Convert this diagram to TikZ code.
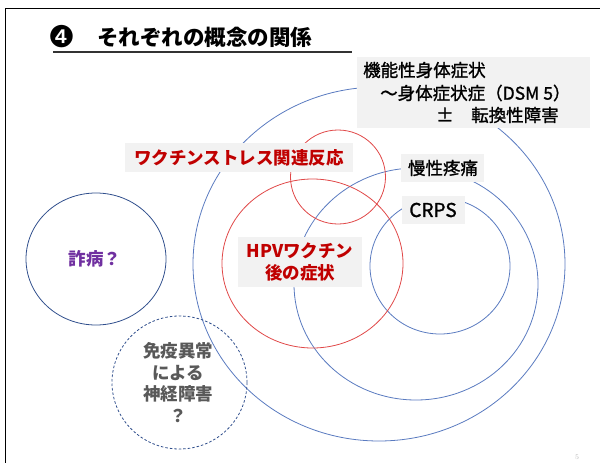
\documentclass[tikz,border=0pt]{standalone}
\usepackage{fontspec}
\newfontfamily\jp{Noto Sans CJK JP}
\newfontfamily\jpm[FakeBold=1.3]{Noto Sans CJK JP}
\newfontfamily\dv{DejaVu Sans}
\definecolor{cblue}{HTML}{5A7BC0}
\definecolor{cdblue}{HTML}{2F4E8C}
\definecolor{cred}{HTML}{E04848}
\definecolor{tred}{HTML}{C00000}
\definecolor{tpurple}{HTML}{7030A0}
\definecolor{tgray}{HTML}{595959}
\definecolor{boxgray}{HTML}{F2F2F2}
\tikzset{
  blueline/.style={draw=cblue, line width=0.8pt},
  redline/.style={draw=cred, line width=0.8pt},
  graybox/.style={fill=boxgray, draw=none, inner sep=0pt},
  lbl/.style={inner sep=0pt, font=\jpm\fontsize{17.5}{21.7}\selectfont},
  redlbl/.style={lbl, text=tred, font=\jp\bfseries\fontsize{17.5}{22}\selectfont},
}
\begin{document}
\begin{tikzpicture}[x=1pt, y=-1pt]
\useasboundingbox (0,0) rectangle (600,463);
% frame
\coordinate (fTR) at (600,8.5);
\coordinate (fTL) at (5.5,8.5);
\coordinate (fBL) at (5.5,463);
\draw[line width=1.2pt] (fTR) -- (fTL) -- (fBL);
% title
\node[inner sep=0pt, font=\dv\fontsize{30}{32}\selectfont] (num) at (62,37) {❹};
\node[anchor=west, inner sep=0pt, font=\jp\bfseries\fontsize{21.5}{26}\selectfont] (title) at (97,37) {それぞれの概念の関係};
\coordinate (ulA) at (53,52);
\coordinate (ulB) at (352,52);
\draw[line width=1.3pt, black!80] (ulA) -- (ulB);
% ellipses
\draw[blueline] (379,264) ellipse [x radius=186pt, y radius=177pt];
\draw[blueline] (416,284) ellipse [x radius=122pt, y radius=116pt];
\draw[blueline] (440,266) ellipse [x radius=70pt, y radius=68pt];
\draw[redline] (338,177) ellipse [x radius=47.5pt, y radius=47pt];
\draw[redline] (312.5,263.5) ellipse [x radius=90.5pt, y radius=84.5pt];
\draw[draw=cdblue, line width=0.8pt] (96,259) ellipse [x radius=70pt, y radius=66pt];
\draw[draw=cdblue, line width=0.8pt, dash pattern=on 2.5pt off 2pt] (179.5,382.5) ellipse [x radius=67.5pt, y radius=66.5pt];
% top-right label
\node[graybox, minimum width=233pt, minimum height=71pt] (fbox) at (473.5,92.5) {};
\node[lbl, anchor=west] (f1) at (363,70) {機能性身体症状};
\node[lbl, anchor=west] (f2) at (380,93) {～身体症状症（DSM 5）};
\node[lbl, anchor=west] (f3) at (436,115) {±　転換性障害};
% vaccine stress
\node[graybox, minimum width=228pt, minimum height=29pt] (vbox) at (239,157.5) {};
\node[redlbl] (vtext) at (239,157.5) {ワクチンストレス関連反応};
% chronic pain
\node[graybox, minimum width=83pt, minimum height=28pt] (cbox) at (442.5,168) {};
\node[lbl] (ctext) at (443,168) {慢性疼痛};
% CRPS
\node[graybox, minimum width=63pt, minimum height=28pt] (rbox) at (433.5,210) {};
\node[lbl, font=\jpm\fontsize{19}{21.7}\selectfont] (rtext) at (433,210) {CRPS};
% HPV
\node[graybox, minimum width=124pt, minimum height=50pt] (hbox) at (300,262) {};
\node[redlbl, align=center] (htext) at (300,262) {HPVワクチン\\後の症状};
% malingering
\node[lbl, text=tpurple, font=\jp\bfseries\fontsize{17.5}{21.7}\selectfont] (mtext) at (95,259) {詐病？};
% immune
\node[lbl, text=tgray, align=center, font=\jp\bfseries\fontsize{17.5}{21.7}\selectfont] (itext) at (178,382.5) {免疫異常\\による\\神経障害\\？};
% page number
\node[inner sep=0pt, text=black!30, font=\fontsize{7}{8}\selectfont] (pg) at (577,457) {5};
\end{tikzpicture}
\end{document}
